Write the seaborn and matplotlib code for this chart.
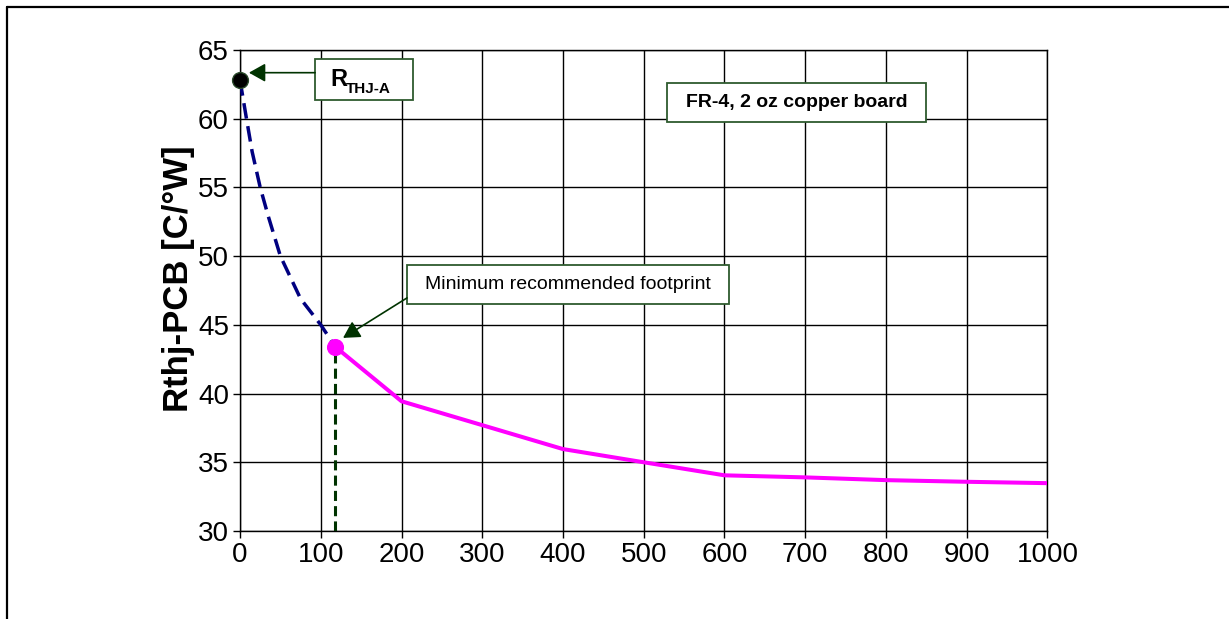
import numpy as np
import pandas as pd
import matplotlib
matplotlib.use("Agg")
import matplotlib.pyplot as plt
from matplotlib.patches import Rectangle
from matplotlib.lines import Line2D
import seaborn as sns

# data
blue_x = [0, 8, 15, 25, 35, 50, 75, 100, 118]
blue_y = [62.8, 60.0, 57.6, 55.0, 52.9, 50.0, 46.9, 45.0, 43.4]

pink_x = [118, 200, 400, 500, 600, 700, 800, 900, 1000]
pink_y = [43.4, 39.44, 35.96, 35.0, 34.05, 33.9, 33.7, 33.58, 33.48]

rth_a = (0, 62.8)
min_fp = (118, 43.4)

x_ticks = list(range(0, 1001, 100))
y_ticks = list(range(30, 66, 5))

sns.set_style("white")
plt.rcParams['font.family'] = ['Liberation Sans', 'DejaVu Sans']
plt.rcParams['text.color'] = 'black'
plt.rcParams['axes.labelcolor'] = 'black'
plt.rcParams['xtick.color'] = 'black'
plt.rcParams['ytick.color'] = 'black'

fig = plt.figure(figsize=(12.29, 6.19), dpi=100)
ax = fig.add_axes([0.1953, 0.1422, 0.6570, 0.7770])

ax.set_xlim(0, 1000)
ax.set_ylim(30, 65)
ax.set_xticks(x_ticks)
ax.set_yticks(y_ticks)
ax.grid(True, color='black', lw=1.0)
ax.set_axisbelow(True)
for s in ax.spines.values():
    s.set_color('black')
    s.set_linewidth(1.0)
ax.tick_params(axis='both', direction='out', length=5, width=1, colors='black',
               labelsize=20, pad=3, left=True, bottom=True)

# curves
blue = pd.DataFrame({'x': blue_x, 'y': blue_y})
pink = pd.DataFrame({'x': pink_x, 'y': pink_y})
sns.lineplot(data=blue, x='x', y='y', ax=ax, color='#000080', lw=2.5,
             linestyle=(0, (4.5, 2.2)), sort=False, estimator=None, zorder=3)
sns.lineplot(data=pink, x='x', y='y', ax=ax, color='#ff00ff', lw=2.9,
             sort=False, estimator=None, zorder=3)

# vertical dashed marker line at min footprint
ax.plot([min_fp[0], min_fp[0]], [30, min_fp[1]], color='#003300', lw=2.2,
        linestyle=(0, (3.3, 1.7)), zorder=3)

sns.scatterplot(x=[rth_a[0]], y=[rth_a[1]], ax=ax, color='black', s=130,
                edgecolor='#2a4a2a', linewidth=1, zorder=5, clip_on=False)
sns.scatterplot(x=[min_fp[0]], y=[min_fp[1]], ax=ax, color='#ff00ff', s=130,
                edgecolor='#ff00ff', zorder=5, clip_on=False)

ax.set_xlabel('')
ax.set_ylabel('Rthj-PCB [C/°W]', fontsize=25, fontweight='bold')
ax.yaxis.set_label_coords(-0.056, 0.524)

green = '#003300'
box_edge = '#2e5a2e'
arrow_kw = dict(arrowstyle='-|>,head_length=0.5,head_width=0.28',
                color=green, lw=1.2, mutation_scale=20, shrinkA=0, shrinkB=0)

def box(x0, x1, y0, y1):
    ax.add_patch(Rectangle((x0, y0), x1 - x0, y1 - y0, facecolor='white',
                           edgecolor=box_edge, lw=1.3, zorder=6, clip_on=False))

# R_THJ-A label
box(92.9, 214.2, 61.36, 64.35)
ax.text(112, 62.35, 'R', fontsize=17, fontweight='bold', ha='left', va='baseline', zorder=7)
ax.text(131, 61.85, 'THJ-A', fontsize=11, fontweight='bold', ha='left', va='baseline', zorder=7)
ax.annotate('', xy=(11, 63.35), xytext=(92.9, 63.35), arrowprops=arrow_kw, zorder=7)

# board note
box(528.8, 849.5, 59.76, 62.6)
ax.text(689, 61.18, 'FR-4, 2 oz copper board', fontsize=14, fontweight='bold',
        ha='center', va='center', zorder=7)

# minimum recommended footprint
box(206.8, 605.6, 46.53, 49.36)
ax.text(406, 47.95, 'Minimum recommended footprint', fontsize=14,
        ha='center', va='center', zorder=7)
ax.annotate('', xy=(127.6, 44.05), xytext=(206.8, 46.96), arrowprops=arrow_kw, zorder=7)

# outer frame (left and top only)
fx = 7 / 1229
fy = 1 - 7 / 619
fig.add_artist(Line2D([fx, fx], [0, fy], color='black', lw=1.6, transform=fig.transFigure))
fig.add_artist(Line2D([fx, 1], [fy, fy], color='black', lw=1.6, transform=fig.transFigure))

fig.savefig('out.png', dpi=100, facecolor='white')
